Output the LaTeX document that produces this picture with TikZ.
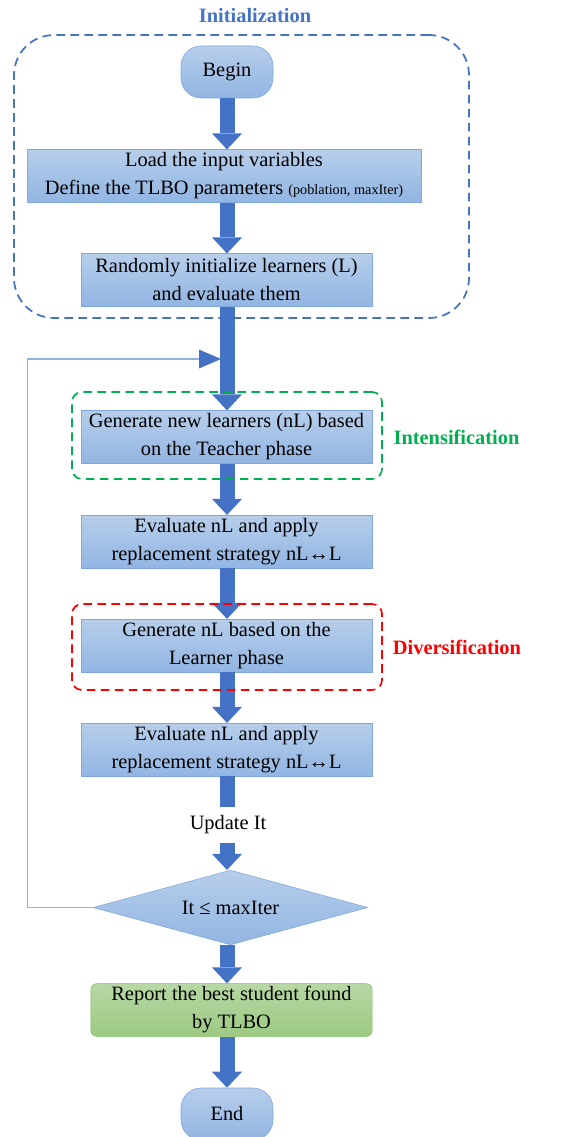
\documentclass[tikz,border=0pt]{standalone}
\usepackage{fontspec}
\setmainfont{Liberation Serif}
\usetikzlibrary{arrows.meta,shapes.geometric,positioning}
\definecolor{arrowblue}{RGB}{68,114,196}
\definecolor{boxtop}{RGB}{183,206,235}
\definecolor{boxbot}{RGB}{146,181,226}
\definecolor{boxline}{RGB}{125,167,222}
\definecolor{greentop}{RGB}{183,216,164}
\definecolor{greenbot}{RGB}{157,201,131}
\definecolor{greenline}{RGB}{128,186,92}
\definecolor{loopline}{RGB}{150,175,222}
\definecolor{intgreen}{RGB}{0,176,80}
\definecolor{divred}{RGB}{255,0,0}
\begin{document}
\begin{tikzpicture}[x=.75pt,y=-.75pt,font=\fontsize{15.3}{21}\selectfont,
  proc/.style={draw=boxline,top color=boxtop,bottom color=boxbot,align=center,
    inner sep=1pt,minimum width=218pt,minimum height=39.5pt},
  termbox/.style={proc,rounded corners=15pt,minimum width=69pt,minimum height=39pt},
  report/.style={proc,draw=greenline,top color=greentop,bottom color=greenbot,
    rounded corners=4.5pt,minimum width=211pt},
  cond/.style={diamond,aspect=3.7,draw=boxline,top color=boxtop,bottom color=boxbot,
    minimum width=206pt,minimum height=56pt,inner sep=0pt},
  flow/.style={line width=11.25pt,draw=arrowblue,
    -{Triangle[width=22.5pt,length=12pt,line width=0pt]}},
  shaft/.style={line width=11.25pt,draw=arrowblue},
  back/.style={draw=loopline,line width=.8pt,
    -{Triangle[width=14pt,length=16.5pt,color=arrowblue]}},
  frame/.style={dashed,dash pattern=on 6.5pt off 4pt,line width=1.3pt,inner sep=0pt},
  tag/.style={font=\fontsize{15.3}{21}\selectfont\bfseries}]
\useasboundingbox (0,0) rectangle (561,1137);
\node[termbox] (begin) at (227,72) {Begin};
\node[proc,minimum width=295.5pt] (load) at (224,176)
  {Load the input variables\\
  Define the TLBO parameters {\fontsize{10.7}{12}\selectfont (poblation, maxIter)}};
\node[proc] (random) at (226.5,280)
  {Randomly initialize learners (L)\\and evaluate them};
\node[proc] (teacher) at (226.5,437)
  {Generate new learners (nL) based\\on the Teacher phase};
\node[proc] (eval1) at (226.5,541.5)
  {Evaluate nL and apply\\replacement strategy nL↔L};
\node[proc] (learner) at (226.5,645.5)
  {Generate nL based on the\\Learner phase};
\node[proc] (eval2) at (226.5,749.5)
  {Evaluate nL and apply\\replacement strategy nL↔L};
\node[inner sep=0pt,minimum height=26.25pt] (update) at (228,825) {Update It};
\node[cond] (test) at (230.5,907.5) {It ≤ maxIter};
\node[report] (best) at (231.5,1010)
  {Report the best student found\\by TLBO};
\node[termbox] (end) at (227,1114) {End};
\draw[flow] (begin.south) -- (load.north -| begin.south);
\draw[flow] (load.south -| begin) -- (random.north -| begin);
\draw[flow] (random.south -| begin) -- (teacher.north -| begin);
\draw[flow] (teacher.south -| begin) -- (eval1.north -| begin);
\draw[flow] (eval1.south -| begin) -- (learner.north -| begin);
\draw[flow] (learner.south -| begin) -- (eval2.north -| begin);
\draw[shaft] (eval2.south -| begin) -- (update.north -| begin);
\draw[flow] (update.south -| begin) -- (test.north -| begin);
\draw[flow] (test.south -| begin) -- (best.north -| begin);
\draw[flow] (best.south -| begin) -- (end.north);
\coordinate (loopin) at (221,359);
\draw[back] (test.west) -- ++(-65,0) |- (loopin);
\node[frame,draw=arrowblue,rounded corners=30pt,minimum width=341.25pt,
  minimum height=212.25pt] (initframe) at (241.5,176.5) {};
\node[frame,draw=intgreen,rounded corners=7.5pt,minimum width=232.5pt,
  minimum height=65.25pt] (intframe) at (227,435.5) {};
\node[frame,draw=divred,rounded corners=7.5pt,minimum width=232.5pt,
  minimum height=64.5pt] (divframe) at (227,647) {};
\node[tag,text=arrowblue] (inittag) at (255,16) {Initialization};
\node[tag,text=intgreen] (inttag) at (456.5,437) {Intensification};
\node[tag,text=divred] (divtag) at (457,647) {Diversification};
\end{tikzpicture}
\end{document}
